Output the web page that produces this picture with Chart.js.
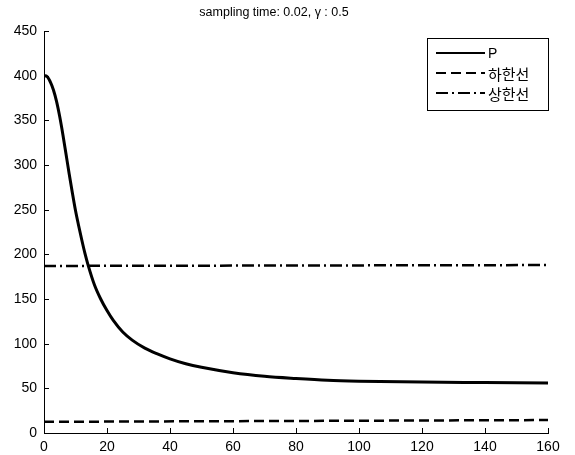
<!DOCTYPE html>
<html>
<head>
<meta charset="utf-8">
<script src="https://cdn.jsdelivr.net/npm/chart.js@4"></script>
<style>
    html, body { margin: 0; padding: 0; background: #fff; }
    #wrap { width: 575px; height: 455px; }
</style>
</head>
<body>
<div id="wrap"><canvas id="PChart" width="575" height="455"></canvas></div>
<script>
// values
const pTime = [0, 1, 2, 3, 4, 5, 6, 7, 8, 9, 10, 11, 12, 13, 14, 16, 18, 20, 22, 25, 28, 32, 36, 40, 45, 50, 60, 70, 80, 90, 100, 120, 140, 160];
const pValues = [400, 399, 393, 384, 371, 354, 334, 312, 290, 269, 249, 232, 216, 201, 188, 166, 150, 137, 126, 113, 104, 95, 88.5, 83, 77.5, 73.5, 67.5, 63.5, 61, 59, 58, 57, 56.5, 56];
const limitTime = [0, 160];
const lowerValues = [12.5, 14.5];
const upperValues = [187, 188];
const xTickStep = 20;
const yTickStep = 50;
const titleText = "sampling time: 0.02, \u03b3 : 0.5";

const FONT = "'Liberation Sans', Arial, sans-serif";

function pts(xs, ys) {
    return xs.map((x, i) => ({ x: x, y: ys[i] }));
}

// matlab-ish ticks pointing into the plot
const inwardTicks = {
    id: "inwardTicks",
    afterDraw(chart) {
        const ctx = chart.ctx;
        const { left, bottom } = chart.chartArea;
        ctx.save();
        ctx.strokeStyle = "#000";
        ctx.lineWidth = 1;
        chart.scales.x.ticks.forEach(t => {
            const px = Math.round(chart.scales.x.getPixelForValue(t.value)) + 0.5;
            ctx.beginPath();
            ctx.moveTo(px, bottom);
            ctx.lineTo(px, bottom - 5);
            ctx.stroke();
        });
        chart.scales.y.ticks.forEach(t => {
            const py = Math.round(chart.scales.y.getPixelForValue(t.value)) + 0.5;
            ctx.beginPath();
            ctx.moveTo(left, py);
            ctx.lineTo(left + 5, py);
            ctx.stroke();
        });
        ctx.restore();
    },
};

// boxed legend with real dash patterns
const boxLegend = {
    id: "boxLegend",
    afterDraw(chart) {
        const ctx = chart.ctx;
        const x0 = 427.5, y0 = 38.5, w = 121, h = 72;
        ctx.save();
        ctx.fillStyle = "#fff";
        ctx.fillRect(x0, y0, w, h);
        ctx.strokeStyle = "#000";
        ctx.lineWidth = 1;
        ctx.setLineDash([]);
        ctx.strokeRect(x0, y0, w, h);
        chart.data.datasets.forEach((ds, i) => {
            const y = 53 + i * 20;
            ctx.beginPath();
            ctx.setLineDash(ds.borderDash || []);
            ctx.lineWidth = 2;
            ctx.strokeStyle = ds.borderColor;
            ctx.moveTo(436, y);
            ctx.lineTo(485, y);
            ctx.stroke();
            ctx.setLineDash([]);
            ctx.fillStyle = "#000";
            ctx.textBaseline = "middle";
            ctx.textAlign = "left";
            ctx.font = i === 0 ? "14px " + FONT : "15px 'Noto Sans CJK KR', sans-serif";
            ctx.fillText(ds.label, 488, y + 1);
        });
        ctx.restore();
    },
};

function PChart() {
    const ctx = document.getElementById("PChart");

    new Chart(ctx, {
        type: "line",
        data: {
            datasets: [
                {
                    label: "P",
                    data: pts(pTime, pValues),
                    borderColor: "#000",
                    borderWidth: 3,
                    pointRadius: 0,
                    fill: false,
                    cubicInterpolationMode: "monotone",
                },
                {
                    label: "하한선",
                    data: pts(limitTime, lowerValues),
                    borderColor: "#000",
                    borderWidth: 2.5,
                    borderDash: [10, 5],
                    pointRadius: 0,
                    fill: false,
                },
                {
                    label: "상한선",
                    data: pts(limitTime, upperValues),
                    borderColor: "#000",
                    borderWidth: 2.5,
                    borderDash: [12, 4, 2, 4],
                    pointRadius: 0,
                    fill: false,
                },
            ],
        },
        options: {
            responsive: false,
            animation: false,
            layout: {
                padding: { top: 0, left: 0, right: 27, bottom: 0 },
            },
            plugins: {
                legend: { display: false },
                tooltip: { enabled: false },
                title: {
                    display: true,
                    text: titleText,
                    color: "#000",
                    font: { family: FONT, size: 12.5, weight: "normal" },
                    padding: { top: 5, bottom: 11 },
                },
            },
            scales: {
                x: {
                    type: "linear",
                    min: 0,
                    max: 160,
                    afterFit(scale) { scale.height = 22; },
                    grid: { drawOnChartArea: false, drawTicks: false },
                    border: { display: true, color: "#000", width: 1 },
                    ticks: {
                        stepSize: xTickStep,
                        color: "#000",
                        padding: 6,
                        maxRotation: 0,
                        font: { family: FONT, size: 14 },
                    },
                },
                y: {
                    min: 0,
                    max: 450,
                    afterFit(scale) { scale.width = 44; },
                    grid: { drawOnChartArea: false, drawTicks: false },
                    border: { display: true, color: "#000", width: 1 },
                    ticks: {
                        stepSize: yTickStep,
                        color: "#000",
                        padding: 7,
                        font: { family: FONT, size: 14 },
                    },
                },
            },
        },
        plugins: [inwardTicks, boxLegend],
    });
}

PChart();
</script>
</body>
</html>
